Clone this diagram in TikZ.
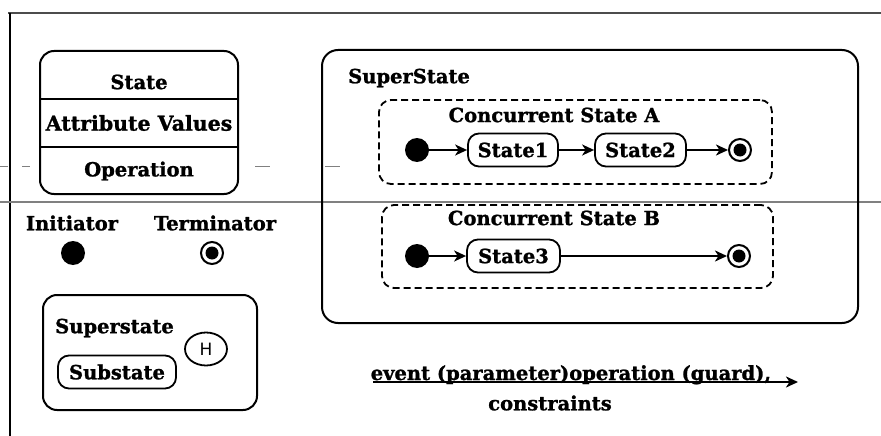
\documentclass[tikz,border=0pt]{standalone}
\usepackage{fontspec}
\setmainfont{DejaVu Serif}[BoldFeatures={FakeBold=1.2}]
\newfontfamily\hfont{DejaVu Sans}
\usetikzlibrary{arrows.meta, shapes.geometric}

\tikzset{
  lbl/.style={font=\fontsize{19.5}{22}\selectfont\bfseries, inner sep=0pt},
  box/.style={draw, line width=2pt, rounded corners=#1, inner sep=0pt},
  box/.default=14pt,
  region/.style={draw, line width=1.8pt, dash pattern=on 7pt off 4pt, rounded corners=12pt, inner sep=0pt},
  simplestate/.style={draw, line width=1.8pt, rounded corners=11pt, minimum height=33pt, inner sep=5pt,
    font=\fontsize{19.5}{22}\selectfont\bfseries},
  initdot/.style={circle, fill=black, minimum width=22pt, minimum height=24pt, inner sep=0pt},
  finalring/.style={circle, draw, line width=2pt, minimum size=22pt, inner sep=0pt,
    path picture={\fill[black] (path picture bounding box.center) circle (6.5pt);}},
  trans/.style={line width=2pt, -{Stealth[length=12pt, width=11pt, inset=3.5pt]}},
  scanline/.style={gray, line width=1.4pt},
}

\begin{document}
\begin{tikzpicture}[x=1pt, y=-1pt]
\useasboundingbox (0,0) rectangle (881,436);

% page frame
\draw[line width=1.6pt, black!70] (8,13) -- (881,13);
\draw[line width=1.8pt] (10,13) -- (10,436);
\draw[scanline] (0,202) -- (881,202);
\draw[gray, line width=1pt, dash pattern=on 8pt off 14pt] (0,166) -- (40,166);
\draw[gray, line width=1pt] (255,166) -- (270,166) (325,166) -- (340,166);

% state with compartments
\node[box=14pt, minimum width=198pt, minimum height=143pt] (statebox) at (139,122.5) {};
\draw[line width=1.8pt] (statebox.west |- 0,99) -- (statebox.east |- 0,99);
\draw[line width=1.8pt] (statebox.west |- 0,147) -- (statebox.east |- 0,147);
\node[lbl] (stname) at (139,82) {State};
\node[lbl, font=\fontsize{20.5}{22}\selectfont\bfseries] (stattr) at (139,123) {Attribute Values};
\node[lbl] (stop) at (139,171) {Operation};

% initial / final symbols
\node[lbl] (initlbl) at (72,223) {Initiator};
\node[lbl] (termlbl) at (215,223) {Terminator};
\node[initdot] (initsym) at (73,253) {};
\node[finalring] (termsym) at (212,253) {};

% history superstate
\node[box=14pt, minimum width=214pt, minimum height=115pt] (hsuper) at (150,352.5) {};
\node[lbl, anchor=west] (hsuperlbl) at (55,328) {Superstate};
\node[simplestate, minimum width=118pt] (substate) at (117,372) {Substate};
\node[ellipse, draw, line width=1.8pt, minimum width=42pt, minimum height=33pt, inner sep=0pt,
  font=\hfont\fontsize{17}{20}\selectfont] (hist) at (206,349) {H};

% composite state with two concurrent regions
\node[box=16pt, minimum width=536pt, minimum height=273pt] (super) at (590,186.5) {};
\node[lbl, anchor=west] (superlbl) at (348,78) {SuperState};

\node[region, minimum width=393pt, minimum height=84pt] (regA) at (575.5,142) {};
\node[lbl] (regAlbl) at (554,115) {Concurrent State A};
\node[initdot] (initA) at (417,150) {};
\node[simplestate, minimum width=90pt] (s1) at (513,150) {State1};
\node[simplestate, minimum width=91pt] (s2) at (640.5,150) {State2};
\node[finalring] (finA) at (740,150) {};
\draw[trans] (initA.east) -- (s1.west);
\draw[trans] (s1.east) -- (s2.west);
\draw[trans] (s2.east) -- (finA.west);

\node[region, minimum width=391pt, minimum height=83pt] (regB) at (577.5,246.5) {};
\node[lbl] (regBlbl) at (554,218) {Concurrent State B};
\node[initdot] (initB) at (417,256) {};
\node[simplestate, minimum width=93pt] (s3) at (513.5,256) {State3};
\node[finalring] (finB) at (739,256) {};
\draw[trans] (initB.east) -- (s3.west);
\draw[trans] (s3.east) -- (finB.west);

% transition label notation
\coordinate (evL) at (373,382);
\coordinate (evR) at (798,382);
\draw[trans] (evL) -- (evR);
\node[lbl, anchor=base] (evtext) at (571,380) {event (parameter)operation (guard),};
\node[lbl] (constr) at (550,403) {constraints};
\end{tikzpicture}
\end{document}
